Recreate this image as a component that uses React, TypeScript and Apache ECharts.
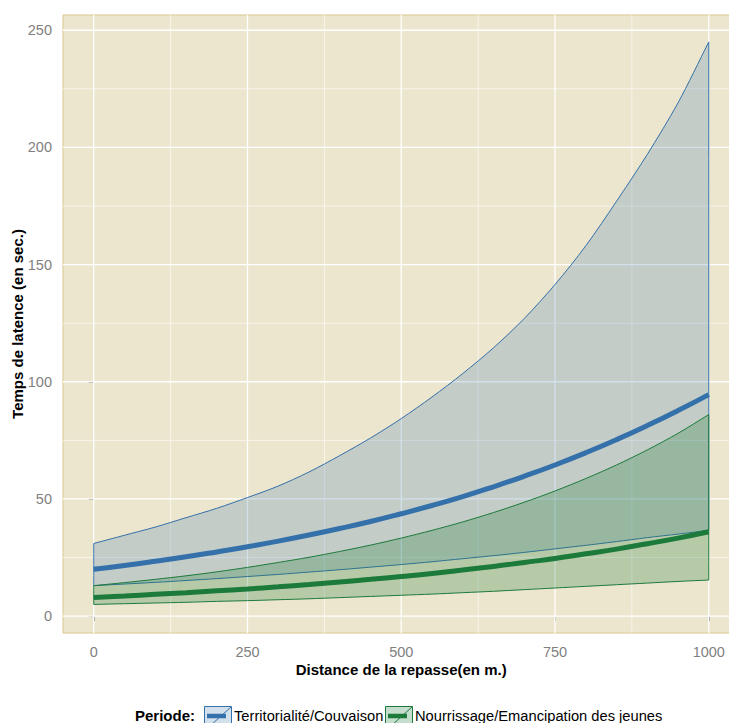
import React, { useEffect, useRef } from "react";
import * as echarts from "echarts";

// ---- data ----
const distances = [0, 50, 100, 150, 200, 250, 300, 350, 400, 450, 500, 550, 600, 650, 700, 750, 800, 850, 900, 950, 1000];

const terrMean = [20.0, 21.6, 23.4, 25.3, 27.4, 29.6, 32.0, 34.6, 37.4, 40.4, 43.7, 47.2, 51.0, 55.2, 59.7, 64.5, 69.7, 75.3, 81.3, 87.7, 94.5];
const terrHigh = [31.0, 34.5, 38.0, 42.0, 46.0, 50.6, 55.5, 61.5, 68.5, 76.0, 84.3, 93.5, 103.5, 114.5, 127.0, 141.5, 158.0, 177.0, 197.0, 219.0, 245.0];
const terrLow = [13.0, 13.7, 14.4, 15.2, 16.0, 16.9, 17.8, 18.8, 19.8, 20.9, 22.0, 23.2, 24.5, 25.8, 27.2, 28.7, 30.2, 31.8, 33.5, 35.0, 36.6];

const nourMean = [8.0, 8.6, 9.3, 10.0, 10.8, 11.6, 12.5, 13.5, 14.6, 15.7, 16.9, 18.2, 19.7, 21.2, 22.9, 24.6, 26.6, 28.6, 30.9, 33.3, 36.0];
const nourHigh = [13.0, 14.3, 15.7, 17.2, 18.9, 20.8, 22.9, 25.1, 27.6, 30.3, 33.3, 36.6, 40.2, 44.2, 48.6, 53.4, 58.7, 64.5, 70.9, 78.0, 86.0];
const nourLow = [5.0, 5.3, 5.6, 5.9, 6.3, 6.6, 7.0, 7.4, 7.9, 8.4, 8.9, 9.4, 10.0, 10.6, 11.3, 12.0, 12.7, 13.4, 14.1, 14.8, 15.4];

const xTicks = [0, 250, 500, 750, 1000];
const xMinor = [125, 375, 625, 875];
const yTicks = [0, 50, 100, 150, 200, 250];
const yMinor = [25, 75, 125, 175, 225];

const periods = ["Territorialité/Couvaison", "Nourrissage/Emancipation des jeunes"];
const legendTitle = "Periode:";
const xTitle = "Distance de la repasse(en m.)";
const yTitle = "Temps de latence (en sec.)";

// ---- styling ----
const FONT = "Liberation Sans, Arial, sans-serif";
const X_MIN = -50, X_MAX = 1050, Y_MIN = -7.2, Y_MAX = 256.5;
const BLUE = "#3470AA";
const GREEN = "#1C7A3B";
const BLUE_FILL = "rgba(51,112,168,0.22)";
const GREEN_FILL = "rgba(26,122,58,0.26)";

function ribbon(name: string, low: number[], high: number[], fill: string, stroke: string, z: number) {
  return {
    type: "custom",
    name,
    z,
    silent: true,
    data: [[0, 0]],
    renderItem: (_p: any, api: any) => {
      const top = distances.map((d, i) => api.coord([d, high[i]]));
      const bot = distances.map((d, i) => api.coord([d, low[i]])).reverse();
      // corners repeated so the smoothing keeps the vertical ends straight
      const pts = [top[0], ...top, top[top.length - 1], bot[0], ...bot, bot[bot.length - 1]];
      return {
        type: "polygon",
        shape: { points: pts, smooth: 0.3 },
        style: { fill, stroke, lineWidth: 1 },
      };
    },
  };
}

function gridSeries() {
  return {
    type: "custom",
    z: 1,
    silent: true,
    data: [[0, 0]],
    renderItem: (_p: any, api: any) => {
      const children: any[] = [];
      const addV = (v: number, w: number) => {
        const a = api.coord([v, Y_MIN]);
        const b = api.coord([v, Y_MAX]);
        children.push({ type: "line", shape: { x1: a[0], y1: a[1], x2: b[0], y2: b[1] }, style: { stroke: "#FFFFFF", lineWidth: w } });
      };
      const addH = (v: number, w: number) => {
        const a = api.coord([X_MIN, v]);
        const b = api.coord([X_MAX, v]);
        children.push({ type: "line", shape: { x1: a[0], y1: a[1], x2: b[0], y2: b[1] }, style: { stroke: "#FFFFFF", lineWidth: w } });
      };
      xMinor.forEach((v) => addV(v, 0.6));
      yMinor.forEach((v) => addH(v, 0.6));
      xTicks.forEach((v) => addV(v, 1.3));
      yTicks.forEach((v) => addH(v, 1.3));
      return { type: "group", children };
    },
  };
}

function legendKey(x: number, y: number, color: string, fill: string) {
  return {
    type: "group",
    x,
    y,
    children: [
      { type: "rect", shape: { x: 0, y: 0, width: 28, height: 20 }, style: { fill: "#FFFFFF", stroke: null } },
      { type: "rect", shape: { x: 0.5, y: 0.5, width: 27, height: 19 }, style: { fill, stroke: color, lineWidth: 1 } },
      { type: "line", shape: { x1: 3, y1: 10, x2: 22, y2: 10 }, style: { stroke: color, lineWidth: 4.5 } },
      { type: "line", shape: { x1: 7, y1: 19, x2: 27, y2: 1 }, style: { stroke: color, lineWidth: 1 } },
    ],
  };
}

export default function App() {
  const ref = useRef<HTMLDivElement>(null);
  useEffect(() => {
    document.body.style.margin = "0";
    const chart = echarts.init(ref.current!, undefined, { renderer: "svg" });
    chart.setOption({
      animation: false,
      backgroundColor: "#FFFFFF",
      textStyle: { fontFamily: FONT },
      grid: {
        left: 63,
        top: 15,
        width: 676.5,
        height: 618,
        containLabel: false,
        outerBoundsMode: "none",
        show: true,
        backgroundColor: "#ECE6CF",
        borderColor: "#DDC78C",
        borderWidth: 1,
      },
      xAxis: {
        type: "value",
        min: X_MIN,
        max: X_MAX,
        name: xTitle,
        nameLocation: "middle",
        nameGap: 29,
        nameMoveOverlap: false,
        nameTextStyle: { fontFamily: FONT, fontWeight: "bold", fontSize: 15, color: "#000000" },
        axisLine: { show: false },
        splitLine: { show: false },
        axisTick: { show: true, customValues: xTicks, length: 5, lineStyle: { color: "#7F7F7F", width: 1 } },
        axisLabel: { customValues: xTicks, margin: 11, color: "#7F7F7F", fontSize: 14.5, fontFamily: FONT, formatter: (v: number) => String(v) },
      },
      yAxis: {
        type: "value",
        min: Y_MIN,
        max: Y_MAX,
        name: yTitle,
        nameLocation: "middle",
        nameGap: 38,
        nameMoveOverlap: false,
        nameTextStyle: { fontFamily: FONT, fontWeight: "bold", fontSize: 15, color: "#000000" },
        axisLine: { show: false },
        splitLine: { show: false },
        axisTick: { show: true, customValues: yTicks, length: 5, lineStyle: { color: "#7F7F7F", width: 1 } },
        axisLabel: { customValues: yTicks, margin: 11, color: "#7F7F7F", fontSize: 14.5, fontFamily: FONT, formatter: (v: number) => String(v) },
      },
      series: [
        gridSeries(),
        ribbon(periods[0], terrLow, terrHigh, BLUE_FILL, BLUE, 2),
        ribbon(periods[1], nourLow, nourHigh, GREEN_FILL, GREEN, 3),
        {
          type: "line",
          name: periods[0],
          z: 4,
          data: distances.map((d, i) => [d, terrMean[i]]),
          smooth: true,
          symbol: "none",
          lineStyle: { color: BLUE, width: 5 },
          silent: true,
        },
        {
          type: "line",
          name: periods[1],
          z: 5,
          data: distances.map((d, i) => [d, nourMean[i]]),
          smooth: true,
          symbol: "none",
          lineStyle: { color: GREEN, width: 5 },
          silent: true,
        },
      ],
      graphic: [
        { type: "text", left: 135, top: 708, style: { text: legendTitle, font: `bold 15px ${FONT}`, fill: "#000000" } },
        legendKey(204, 706, BLUE, BLUE_FILL),
        { type: "text", left: 234, top: 708, style: { text: periods[0], font: `14.7px ${FONT}`, fill: "#000000" } },
        legendKey(385, 706, GREEN, GREEN_FILL),
        { type: "text", left: 415, top: 708, style: { text: periods[1], font: `14.7px ${FONT}`, fill: "#000000" } },
      ],
    });
    return () => chart.dispose();
  }, []);
  return <div ref={ref} style={{ width: 729, height: 723 }} />;
}
